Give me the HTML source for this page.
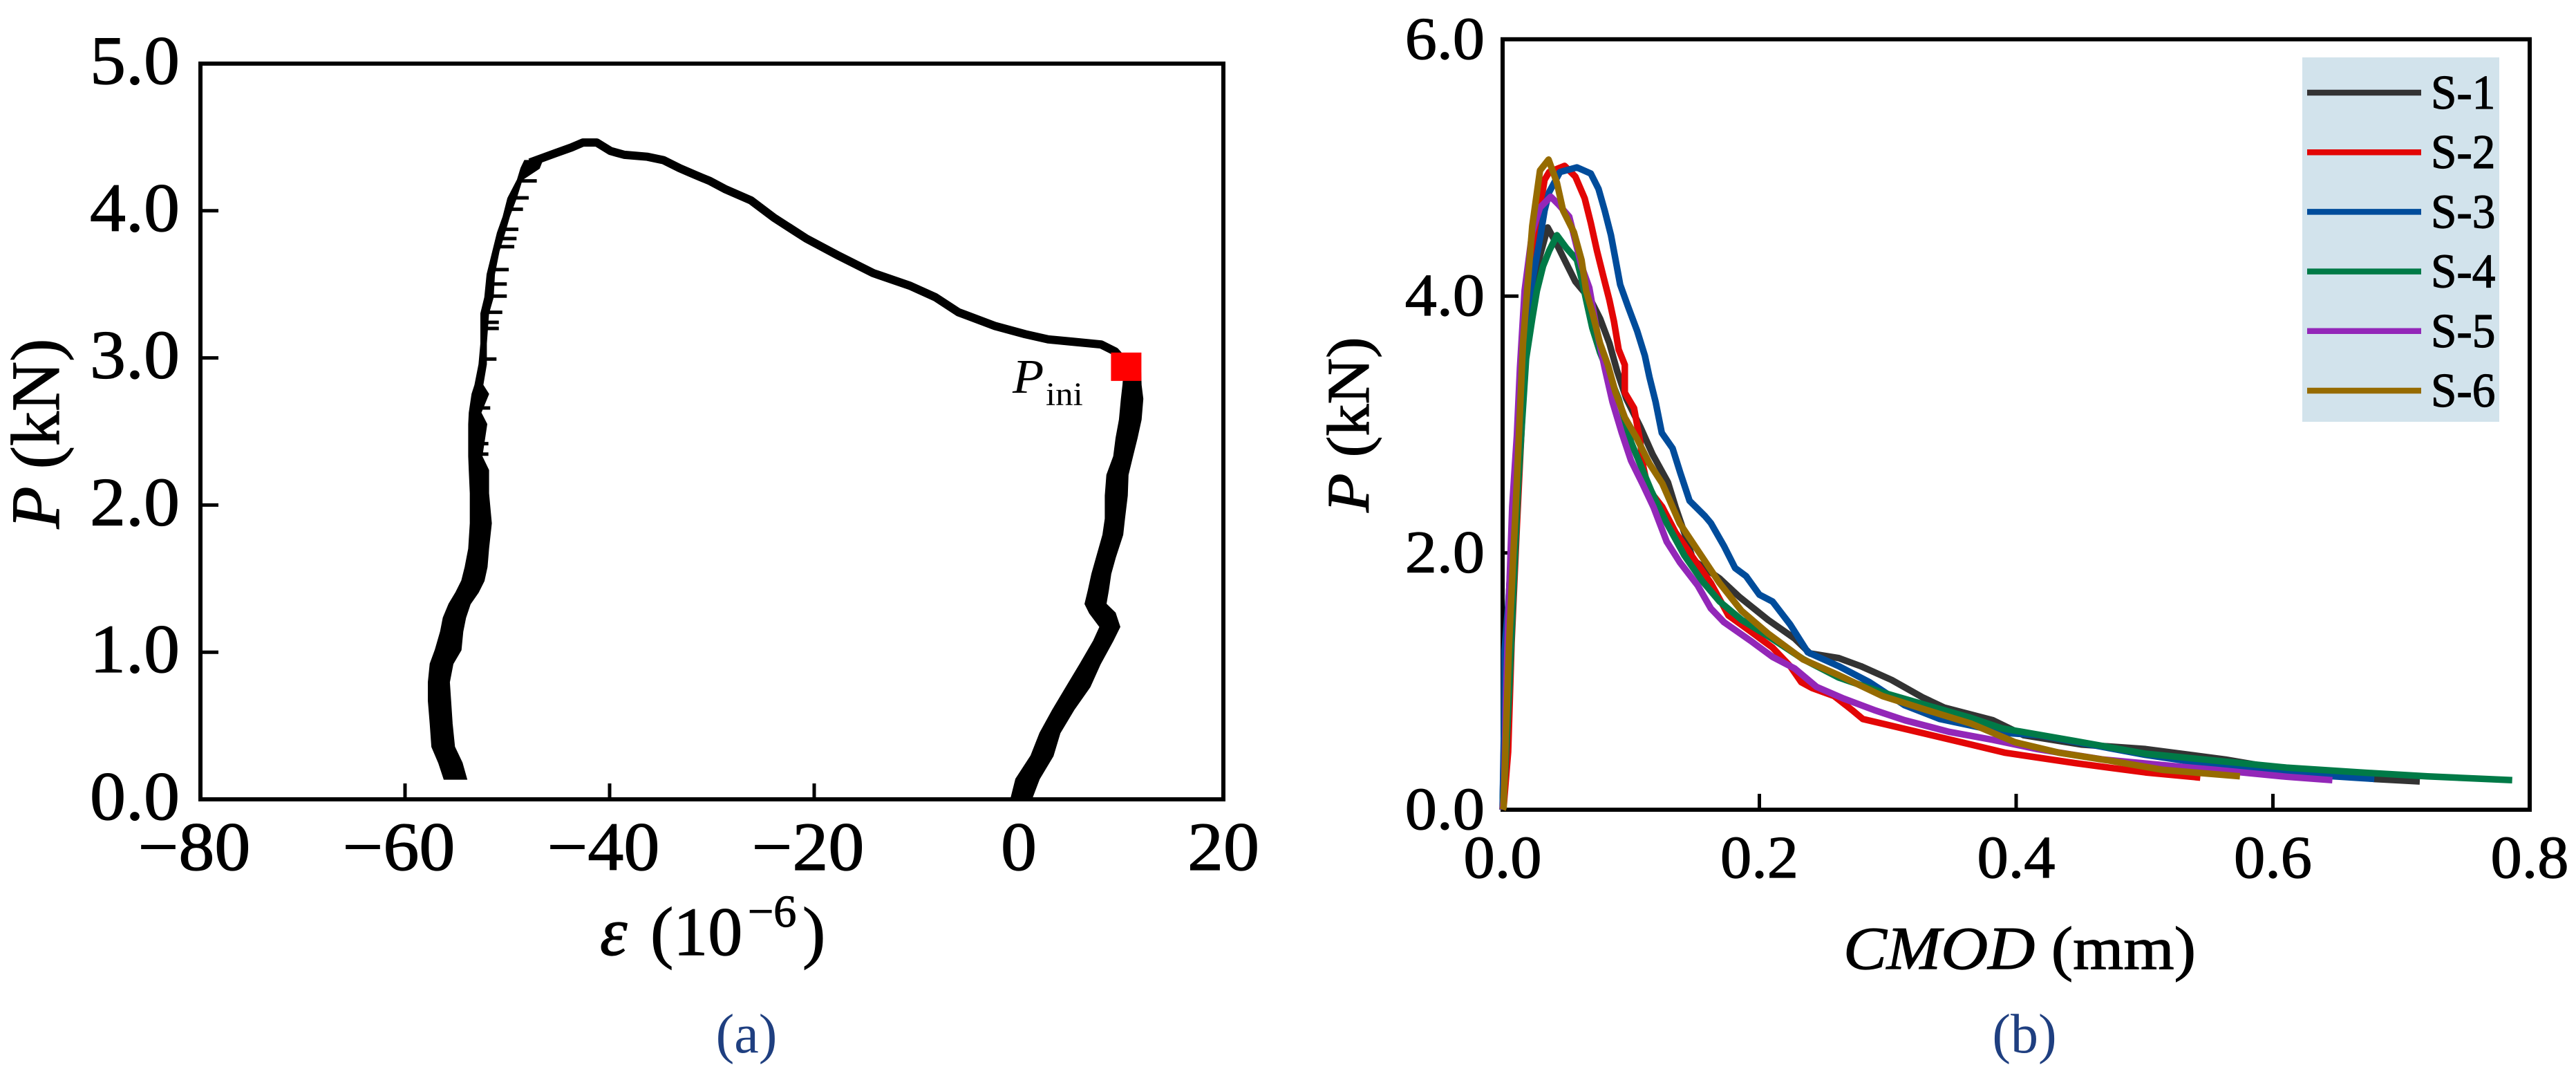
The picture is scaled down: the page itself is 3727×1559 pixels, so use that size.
<!DOCTYPE html>
<html lang="en">
<head>
<meta charset="utf-8">
<title>Load-strain and load-CMOD curves</title>
<style>
html,body{margin:0;padding:0;background:#fff;}
svg{display:block;}
text{font-family:"Liberation Serif",serif;fill:#000;stroke:#000;stroke-width:1.2px;}
</style>
</head>
<body>
<svg id="fig" xmlns="http://www.w3.org/2000/svg" width="3727" height="1559" viewBox="0 0 3727 1559">
<rect width="3727" height="1559" fill="#fff"/>
<g id="panelA"></g>
<g id="panelB"></g>
<text x="1080" y="1522" font-size="80" text-anchor="middle" style="fill:#1f3f80;stroke:none">(a)</text>
<text x="2929" y="1522" font-size="80" text-anchor="middle" style="fill:#1f3f80;stroke:none">(b)</text>
<text transform="translate(85,627) rotate(-90)" font-size="100" text-anchor="middle"><tspan font-style="italic">P</tspan> (kN)</text>
<text font-size="100" y="1381"><tspan font-style="italic" x="868">ε</tspan><tspan x="941">(10</tspan><tspan x="1082" y="1340" font-size="66">−6</tspan><tspan x="1161" y="1381">)</tspan></text>
<text transform="translate(1980,614) rotate(-90) scale(1.06,1)" font-size="87" text-anchor="middle"><tspan font-style="italic">P</tspan> (kN)</text>
<text transform="translate(2667,1401) scale(1.07,1)" font-size="88"><tspan font-style="italic">CMOD</tspan> (mm)</text>
<text transform="translate(1465,568) scale(1.06,1)" font-size="70" font-style="italic" style="stroke:none">P</text>
<text transform="translate(1513,586) scale(1.06,1)" font-size="48" style="stroke:none">ini</text>
</svg>
<script>
// ---------- Panel (a) data ----------
const aXTicks = [-60, -40, -20, 0];
const aXLabels = [-80, -60, -40, -20, 0, 20];
const aYTicks = [1, 2, 3, 4];
const aYLabels = ["0.0", "1.0", "2.0", "3.0", "4.0", "5.0"];

// compression side (left branch): load and strain scatter band
const leftLoad = [0.138,0.248,0.357,0.514,0.670,0.796,0.921,1.015,1.140,1.234,1.328,1.407,1.485,1.579,1.704,1.876,2.080,2.237,2.331,2.550,2.628,2.754,2.816,2.957,3.098,3.302,3.412,3.568,3.725,3.850,3.960,4.085,4.211,4.289,4.340];
const leftLow = [-56.17,-56.69,-57.36,-57.52,-57.70,-57.70,-57.52,-57.03,-56.51,-56.24,-55.68,-55.00,-54.44,-54.10,-53.76,-53.60,-53.60,-53.70,-53.76,-53.76,-53.70,-53.43,-53.15,-52.75,-52.57,-52.57,-52.18,-51.96,-51.40,-50.95,-50.39,-49.93,-48.99,-48.65,-48.30];
const leftHigh = [-53.99,-54.44,-55.18,-55.41,-55.56,-55.68,-55.34,-54.55,-54.37,-54.10,-53.65,-52.86,-52.30,-52.00,-51.85,-51.58,-51.85,-51.85,-52.50,-52.03,-52.60,-51.85,-52.41,-52.07,-52.07,-51.85,-51.40,-51.28,-50.83,-50.27,-49.82,-49.14,-48.58,-46.89,-46.60];

// short horizontal jitter whiskers on the left branch
const spikeLoad = [4.203,4.088,4.010,3.874,3.811,3.756,3.600,3.502,3.420,3.310,3.242,3.200,2.992,2.660,2.417,2.346];
const spikeTip = [-47.12,-47.91,-48.47,-48.92,-49.10,-49.32,-49.86,-50.05,-50.05,-50.49,-50.83,-50.83,-51.06,-51.67,-51.85,-51.85];

// top arch: peak and softening part of the curve
const topStrain = [-47.79,-45.32,-43.74,-42.61,-41.26,-39.91,-38.56,-36.30,-34.73,-33.15,-31.58,-30.22,-28.65,-26.17,-23.92,-20.77,-17.61,-14.23,-10.63,-8.15,-5.90,-2.30,0.63,2.88,5.14,8.06,9.41,10.32,10.90];
const topLoad = [4.328,4.391,4.430,4.464,4.464,4.406,4.380,4.367,4.344,4.289,4.242,4.203,4.145,4.070,3.952,3.811,3.694,3.576,3.490,3.412,3.310,3.216,3.161,3.126,3.111,3.091,3.044,2.973,2.850];

// tension side (right branch): load and strain scatter band
const rightLoad = [0.013,0.138,0.295,0.451,0.608,0.765,0.921,1.078,1.172,1.266,1.328,1.422,1.532,1.642,1.798,1.908,2.064,2.205,2.331,2.456,2.581,2.722,2.816,2.900];
const rightLow = [-0.72,-0.27,1.20,2.09,3.33,4.68,6.03,7.34,7.95,6.94,6.49,6.82,7.16,7.61,8.24,8.47,8.47,8.63,9.30,9.53,9.86,10.05,10.20,10.30];
const rightHigh = [1.30,1.98,3.33,4.01,5.36,6.94,7.95,9.19,9.86,9.41,8.51,8.74,8.97,9.41,10.14,10.32,10.59,10.66,11.10,11.55,11.94,12.11,11.94,11.90];

const piniStrain = 10.5;
const piniLoad = 2.94;

// ---------- Panel (b) data ----------
const bXTicks = [0.2, 0.4, 0.6];
const bXLabels = ["0.0", "0.2", "0.4", "0.6", "0.8"];
const bYTicks = [2, 4];
const bYLabels = ["0.0", "2.0", "4.0", "6.0"];
const seriesNames = ["S-1", "S-2", "S-3", "S-4", "S-5", "S-6"];
const seriesColors = ["#333333", "#e30606", "#004c9b", "#007a47", "#9327b8", "#966b00"];

const s1Cmod = [0,0.001,0.004,0.01,0.018,0.026,0.0351,0.0423,0.0495,0.0567,0.0687,0.0759,0.0832,0.0892,0.0964,0.1072,0.1168,0.1288,0.1347,0.1433,0.1484,0.1691,0.1845,0.2068,0.2274,0.2394,0.2618,0.279,0.303,0.3269,0.3441,0.3819,0.4059,0.4506,0.5008,0.5631,0.6105,0.6794,0.7144];
const s1Load = [0,0.5,1.5,2.6,3.6,4.2,4.534,4.401,4.257,4.113,3.969,3.825,3.632,3.416,3.2,2.983,2.767,2.55,2.357,2.106,1.944,1.8,1.657,1.478,1.334,1.217,1.181,1.118,1.011,0.876,0.795,0.697,0.58,0.508,0.472,0.391,0.31,0.239,0.22];

const s2Cmod = [0,0.001,0.0043,0.007,0.011,0.0159,0.022,0.0291,0.0327,0.0363,0.0483,0.0567,0.0639,0.0687,0.0735,0.0783,0.0832,0.0868,0.0904,0.0952,0.0952,0.1024,0.1072,0.1096,0.1132,0.1244,0.1347,0.1484,0.1622,0.1759,0.1931,0.2103,0.224,0.2326,0.2411,0.2583,0.2721,0.2806,0.2961,0.3304,0.3648,0.3909,0.4458,0.5008,0.5434];
const s2Load = [0,0.05,0.45,1.3,2.18,3.2,4.1,4.69,4.906,4.966,5.014,4.93,4.762,4.57,4.353,4.161,3.969,3.8,3.584,3.464,3.248,3.127,2.863,2.671,2.502,2.357,2.16,1.962,1.765,1.513,1.388,1.262,1.118,0.993,0.948,0.885,0.777,0.706,0.67,0.589,0.508,0.445,0.363,0.29,0.25];

const s3Cmod = [0,0.001,0.0015,0.0043,0.011,0.0165,0.0207,0.0231,0.0291,0.0327,0.0363,0.0447,0.0579,0.0687,0.0747,0.0795,0.0844,0.088,0.0916,0.0976,0.1048,0.1108,0.1144,0.1192,0.124,0.1324,0.1384,0.1456,0.1577,0.1622,0.1725,0.1811,0.1896,0.2,0.2103,0.224,0.2377,0.2618,0.2858,0.3132,0.3407,0.392,0.4183,0.5007,0.5556,0.6105,0.6654,0.679];
const s3Load = [0,0.6,1.24,1.59,2.6,3.3,3.87,4.113,4.45,4.666,4.81,4.966,5.002,4.954,4.834,4.666,4.474,4.281,4.089,3.921,3.728,3.536,3.368,3.175,2.935,2.815,2.623,2.406,2.286,2.232,2.052,1.882,1.819,1.675,1.621,1.442,1.226,1.118,0.993,0.813,0.706,0.598,0.58,0.427,0.346,0.284,0.248,0.24];

const s4Cmod = [0,0.002,0.005,0.0085,0.012,0.015,0.0183,0.0231,0.0267,0.0315,0.0363,0.0423,0.0495,0.0579,0.0615,0.0651,0.0699,0.0759,0.0904,0.1,0.1158,0.1278,0.1416,0.1553,0.1691,0.1862,0.2068,0.2342,0.2618,0.2961,0.3304,0.3648,0.3888,0.4458,0.5008,0.5556,0.6105,0.6654,0.7203,0.7864];
const s4Load = [0,0.3,0.9,1.7,2.5,3,3.512,3.825,4.041,4.233,4.353,4.474,4.377,4.281,4.137,3.969,3.752,3.56,3.2,2.863,2.483,2.232,1.98,1.783,1.621,1.478,1.352,1.172,1.029,0.912,0.813,0.715,0.634,0.535,0.436,0.382,0.328,0.292,0.26,0.23];

const s5Cmod = [0,0.001,0.0025,0.0043,0.0075,0.0111,0.0135,0.0171,0.0231,0.0291,0.0375,0.0435,0.0519,0.0615,0.0675,0.0735,0.0795,0.0856,0.0928,0.1,0.109,0.1175,0.1278,0.1381,0.1519,0.1622,0.1725,0.1931,0.2103,0.2274,0.2445,0.2652,0.2892,0.3132,0.3476,0.3819,0.4163,0.4677,0.5253,0.5556,0.6105,0.6463];
const s5Load = [0,0.1,0.8,1.46,2.36,2.911,3.44,4.041,4.498,4.69,4.774,4.714,4.618,4.233,4.065,3.728,3.44,3.175,2.935,2.719,2.537,2.357,2.088,1.926,1.747,1.567,1.46,1.316,1.19,1.1,0.957,0.867,0.777,0.697,0.607,0.544,0.472,0.391,0.337,0.31,0.257,0.23];

const s6Cmod = [0,0.0008,0.0025,0.005,0.0084,0.0099,0.0159,0.0231,0.0291,0.0358,0.0423,0.0471,0.0555,0.0615,0.0651,0.0699,0.0759,0.082,0.088,0.0952,0.1048,0.1144,0.1244,0.138,0.152,0.169,0.186,0.207,0.234,0.262,0.296,0.33,0.365,0.399,0.433,0.473,0.5144,0.5743];
const s6Load = [0,0.02,0.56,1.28,2,2.286,3.632,4.546,4.978,5.063,4.882,4.666,4.498,4.281,4.041,3.873,3.632,3.464,3.248,3.055,2.887,2.695,2.54,2.23,2.02,1.765,1.55,1.37,1.17,1.047,0.885,0.777,0.67,0.526,0.445,0.382,0.31,0.26];

const allCmod = [s1Cmod, s2Cmod, s3Cmod, s4Cmod, s5Cmod, s6Cmod];
const allLoad = [s1Load, s2Load, s3Load, s4Load, s5Load, s6Load];

// ---------- Drawing ----------
const NS = "http://www.w3.org/2000/svg";
const ax = v => 1474 + v * 14.8;
const ay = v => 1156 - v * 212.8;
const bx = v => 2174 + v * 1857.5;
const by = v => 1171 - v * 185.7;

function node(parent, tag, attrs) {
  const el = document.createElementNS(NS, tag);
  for (const k in attrs) el.setAttribute(k, attrs[k]);
  parent.appendChild(el);
  return el;
}
function label(parent, x, y, str, size, sx, anchor) {
  const el = node(parent, "text", {
    transform: "translate(" + x + "," + y + ") scale(" + sx + ",1)",
    "font-size": size,
    "text-anchor": anchor
  });
  el.textContent = str;
  return el;
}
function interp(xs, ys, x) {
  for (let i = 0; i < xs.length - 1; i++) {
    if (x >= xs[i] && x <= xs[i + 1]) {
      return ys[i] + (ys[i + 1] - ys[i]) * (x - xs[i]) / (xs[i + 1] - xs[i]);
    }
  }
  return ys[ys.length - 1];
}

const A = document.getElementById("panelA");
const B = document.getElementById("panelB");

// Panel (a) frame and ticks
const frameA = node(A, "rect", {x: ax(-80), y: ay(5), width: ax(20) - ax(-80), height: ay(0) - ay(5), fill: "none", stroke: "#000", "stroke-width": 6});



aXTicks.forEach(v => {
  const t = node(A, "line", {x1: ax(v), x2: ax(v), y1: ay(0), y2: ay(0) - 23, stroke: "#000", "stroke-width": 5});
  
  
});
aYTicks.forEach(v => {
  const t = node(A, "line", {x1: ax(-80), x2: ax(-80) + 26, y1: ay(v), y2: ay(v), stroke: "#000", "stroke-width": 5});
  
  
});
aXLabels.forEach(v => {
  const str = v < 0 ? "\u2212" + Math.abs(v) : String(v);
  const t = label(A, ax(v) - (v < 0 ? 9 : 0), 1258, str, 100, 1.04, "middle");
  
  
});
aYLabels.forEach(s => {
  const t = label(A, 260, ay(parseFloat(s)) + 29, s, 100, 1.04, "end");
  
  
});

// Panel (a) curve
function bandPoints(load, low, high) {
  const pts = [];
  for (let i = 0; i < load.length; i++) pts.push(ax(low[i]).toFixed(1) + "," + ay(load[i]).toFixed(1));
  for (let i = load.length - 1; i >= 0; i--) pts.push(ax(high[i]).toFixed(1) + "," + ay(load[i]).toFixed(1));
  return pts.join(" ");
}
const leftBand = node(A, "polygon", {points: bandPoints(leftLoad, leftLow, leftHigh), fill: "#000", stroke: "#000", "stroke-width": 2});



spikeLoad.forEach((p, i) => {
  const s = node(A, "line", {x1: ax(interp(leftLoad, leftLow, p)), x2: ax(spikeTip[i]), y1: ay(p), y2: ay(p), stroke: "#000", "stroke-width": 5});
  
  
});

const arch = node(A, "polyline", {
  points: topStrain.map((s, i) => ax(s).toFixed(1) + "," + ay(topLoad[i]).toFixed(1)).join(" "),
  fill: "none", stroke: "#000", "stroke-width": 12, "stroke-linejoin": "round"
});



const rightBand = node(A, "polygon", {points: bandPoints(rightLoad, rightLow, rightHigh), fill: "#000", stroke: "#000", "stroke-width": 2});



const marker = node(A, "rect", {x: ax(piniStrain) - 22, y: ay(piniLoad) - 20.5, width: 44, height: 41, fill: "#ff0000"});



// Panel (b) frame and ticks
const frameB = node(B, "rect", {x: bx(0), y: by(6), width: bx(0.8) - bx(0), height: by(0) - by(6), fill: "none", stroke: "#000", "stroke-width": 6});



bXTicks.forEach(v => {
  const t = node(B, "line", {x1: bx(v), x2: bx(v), y1: by(0), y2: by(0) - 23, stroke: "#000", "stroke-width": 5});
  
  
});
bYTicks.forEach(v => {
  const t = node(B, "line", {x1: bx(0), x2: bx(0) + 23, y1: by(v), y2: by(v), stroke: "#000", "stroke-width": 5});
  
  
});
bXLabels.forEach(s => {
  const t = label(B, bx(parseFloat(s)), 1269, s, 87, 1.04, "middle");
  
  
});
bYLabels.forEach(s => {
  const t = label(B, 2148, by(parseFloat(s)) + 28, s, 87, 1.06, "end");
  
  
});

// Panel (b) series
seriesNames.forEach((name, i) => {
  const line = node(B, "polyline", {
    points: allCmod[i].map((c, j) => bx(c).toFixed(1) + "," + by(allLoad[i][j]).toFixed(1)).join(" "),
    fill: "none", stroke: seriesColors[i], "stroke-width": 9.5, "stroke-linejoin": "round"
  });
  
  
});

// Legend
const legendBox = node(B, "rect", {x: 3331, y: 83, width: 285, height: 527, fill: "#d2e3ec"});


seriesNames.forEach((name, i) => {
  const ly = 134 + i * 86.2;
  const key = node(B, "line", {x1: 3338, x2: 3503, y1: ly, y2: ly, stroke: seriesColors[i], "stroke-width": 8.5});
  
  
  const t = label(B, 3517, ly + 23, name, 70, 0.96, "start");
  
  
});
</script>
</body>
</html>
